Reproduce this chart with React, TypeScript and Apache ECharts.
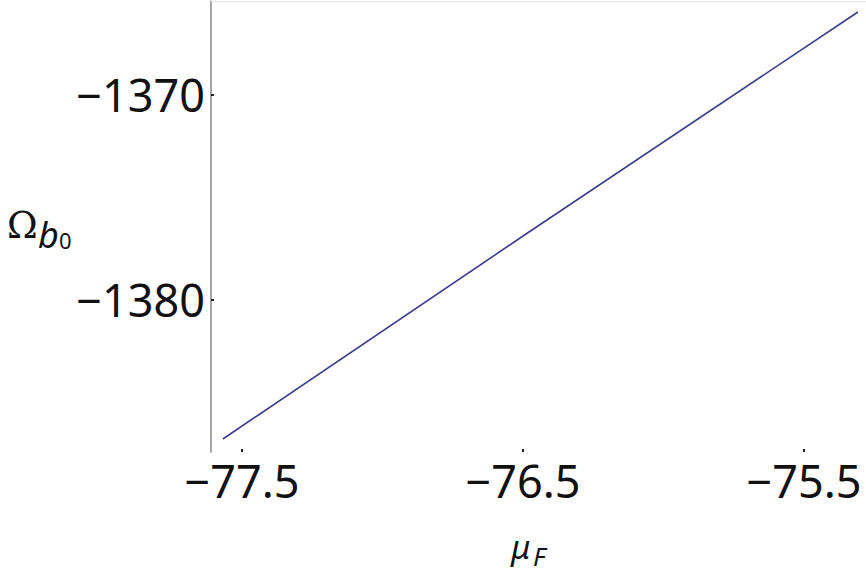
import React, { useEffect, useRef } from "react";
import * as echarts from "echarts";

const muValues = [-77.568, -76.5, -75.308];
const omegaValues = [-1386.78, -1376.88, -1365.95];
const xTicks = [-77.5, -76.5, -75.5];
const yTicks = [-1380, -1370];

const fmt = (v: number) => String(v).replace("-", "\u2212");

export default function App() {
  const ref = useRef<HTMLDivElement>(null);
  useEffect(() => {
    if (!ref.current) return;
    const chart = echarts.init(ref.current, undefined, { renderer: "svg" });
    const font = "'Noto Sans', 'DejaVu Sans', sans-serif";
    chart.setOption({
      animation: false,
      backgroundColor: "#ffffff",
      grid: { left: 211, right: 0, top: 1, bottom: 123, containLabel: false },
      xAxis: [
        {
          type: "value",
          min: -77.6103,
          max: -75.2794,
          axisLine: { show: false },
          splitLine: { show: false },
          axisTick: {
            show: true,
            inside: true,
            length: 3,
            customValues: xTicks,
            lineStyle: { color: "#222", width: 2 },
          },
          axisLabel: {
            customValues: xTicks,
            formatter: fmt,
            fontFamily: font,
            fontSize: 45,
            color: "#111",
            margin: 28,
            verticalAlign: "middle",
          },
        },
        {
          type: "value",
          position: "top",
          min: -77.6103,
          max: -75.2794,
          axisLine: { show: true, lineStyle: { color: "#e4e4e4", width: 1 } },
          axisTick: { show: false },
          axisLabel: { show: false },
          splitLine: { show: false },
        },
      ],
      yAxis: {
        type: "value",
        min: -1387.415,
        max: -1365.415,
        axisLine: { show: true, lineStyle: { color: "#888", width: 1.5 } },
        splitLine: { show: false },
        axisTick: {
          show: true,
          inside: true,
          length: 3,
          customValues: yTicks,
          lineStyle: { color: "#222", width: 2 },
        },
        axisLabel: {
          customValues: yTicks,
          formatter: fmt,
          fontFamily: font,
          fontSize: 45,
          color: "#111",
          margin: 6,
        },
      },
      series: [
        {
          type: "line",
          xAxisIndex: 0,
          data: muValues.map((m, i) => [m, omegaValues[i]]),
          showSymbol: false,
          lineStyle: { color: "#3c3c8e", width: 1.6 },
        },
      ],
      graphic: [
        {
          type: "text",
          x: 7,
          y: 225,
          style: { text: "\u03A9", fontFamily: "'DejaVu Serif', serif", fontSize: 37, fill: "#111", align: "left", verticalAlign: "middle" },
        },
        {
          type: "text",
          x: 38,
          y: 234,
          style: { text: "b", fontFamily: font, fontStyle: "italic", fontSize: 36, fill: "#111", align: "left", verticalAlign: "middle" },
        },
        {
          type: "text",
          x: 59,
          y: 240,
          style: { text: "0", fontFamily: font, fontSize: 22, fill: "#111", align: "left", verticalAlign: "middle" },
        },
        {
          type: "text",
          x: 511,
          y: 546,
          style: { text: "\u03BC", fontFamily: font, fontStyle: "italic", fontSize: 33, fill: "#111", align: "left", verticalAlign: "middle" },
        },
        {
          type: "text",
          x: 533,
          y: 556,
          style: { text: "F", fontFamily: font, fontStyle: "italic", fontSize: 26, fill: "#111", align: "left", verticalAlign: "middle" },
        },
      ],
    });
    return () => chart.dispose();
  }, []);
  return (
    <div
      ref={ref}
      style={{ position: "fixed", left: 0, top: 0, width: 866, height: 575 }}
    />
  );
}
